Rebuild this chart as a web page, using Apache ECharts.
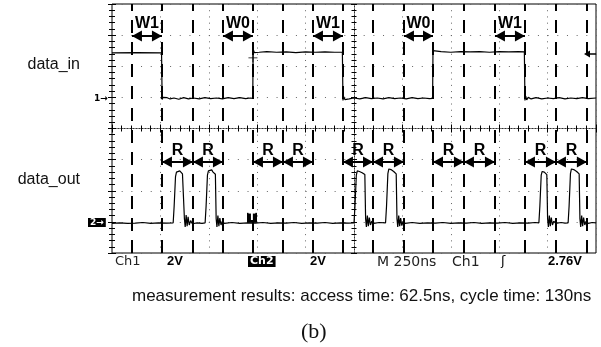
<!DOCTYPE html>
<html>
<head>
<meta charset="utf-8">
<script src="https://cdn.jsdelivr.net/npm/echarts@6/dist/echarts.min.js"></script>
<style>
  html, body {margin: 0; padding: 0; background: #fff;}
  #main {width: 601px; height: 347px;}
</style>
</head>
<body>
<div id="main"></div>
<script>
// time in ns (250 ns/div), level in screen divisions (0 = centre line)
const dataIn = [
  [0, 2.43], [130, 2.44], [256, 2.43], [259, 0.93], [263, 1.0], [270, 0.95], [285, 0.99], [300, 0.95],
  [320, 0.98], [345, 0.94], [370, 0.99], [395, 0.95], [420, 0.98], [450, 0.95], [480, 0.99], [510, 0.96],
  [540, 0.98], [570, 0.95], [600, 0.99], [630, 0.96], [660, 0.99], [690, 0.96], [715, 0.98], [727, 0.97],
  [729, 2.55], [735, 2.44], [745, 2.49], [760, 2.45], [800, 2.47], [850, 2.45], [900, 2.46], [950, 2.44],
  [1000, 2.46], [1050, 2.45], [1100, 2.46], [1150, 2.45], [1190, 2.45], [1193, 0.9], [1197, 1.02], [1203, 0.93],
  [1210, 0.99], [1225, 0.95], [1250, 0.98], [1280, 0.95], [1310, 0.99], [1340, 0.96], [1370, 0.98], [1400, 0.95],
  [1430, 0.99], [1460, 0.96], [1490, 0.98], [1520, 0.95], [1550, 0.99], [1580, 0.96], [1610, 0.98], [1640, 0.96],
  [1656, 0.97], [1658, 2.5], [1665, 2.46], [1700, 2.47], [1750, 2.45], [1800, 2.47], [1850, 2.46], [1900, 2.47],
  [1950, 2.45], [2000, 2.47], [2050, 2.46], [2100, 2.47], [2130, 2.46], [2133, 0.9], [2137, 1.04], [2142, 0.92],
  [2150, 1.0], [2165, 0.95], [2190, 0.99], [2220, 0.95], [2250, 0.98], [2280, 0.96], [2310, 0.99], [2340, 0.95],
  [2370, 0.98], [2400, 0.96], [2430, 0.99], [2460, 0.96], [2500, 0.98]
];

const dataOut = [
  [0, -3.05], [40, -3.03], [80, -3.05], [120, -3.04], [160, -3.02], [200, -3.05], [240, -3.03], [280, -3.04],
  // pulse 1
  [316, -3.03], [321, -2.5], [328, -1.55], [333, -1.40], [338, -1.34], [343, -1.38], [350, -1.36], [357, -1.42],
  [364, -1.46], [370, -1.48], [374, -2.9], [378, -3.16], [383, -2.78], [388, -3.14], [393, -2.84], [399, -3.1],
  [406, -2.96], [415, -3.06], [440, -3.03], [465, -3.05],
  // pulse 2
  [481, -3.03], [486, -2.5], [493, -1.5], [498, -1.36], [503, -1.30], [508, -1.36], [515, -1.33], [522, -1.40],
  [529, -1.45], [534, -1.47], [538, -2.9], [542, -3.16], [547, -2.8], [552, -3.14], [557, -2.88], [563, -3.1],
  [570, -2.98], [580, -3.05], [620, -3.02], [660, -3.05], [700, -3.03], [740, -3.04], [780, -3.02], [820, -3.05],
  [860, -3.03], [900, -3.04], [940, -3.02], [980, -3.05], [1020, -3.03], [1060, -3.04], [1100, -3.02],
  [1140, -3.05], [1180, -3.03], [1220, -3.04],
  // pulse 3
  [1250, -3.03], [1255, -2.5], [1262, -1.5], [1267, -1.36], [1272, -1.32], [1278, -1.38], [1285, -1.36],
  [1292, -1.42], [1300, -1.46], [1306, -1.48], [1310, -2.9], [1314, -3.16], [1319, -2.8], [1324, -3.14],
  [1329, -2.86], [1335, -3.1], [1342, -2.98], [1352, -3.05], [1380, -3.02],
  // pulse 4
  [1413, -3.03], [1418, -2.5], [1425, -1.45], [1430, -1.30], [1435, -1.26], [1441, -1.32], [1448, -1.30],
  [1455, -1.38], [1462, -1.44], [1468, -1.46], [1472, -2.9], [1476, -3.16], [1481, -2.8], [1486, -3.14],
  [1491, -2.88], [1497, -3.12], [1504, -2.98], [1514, -3.05], [1550, -3.02], [1590, -3.05], [1630, -3.03],
  [1670, -3.04], [1710, -3.02], [1750, -3.05], [1790, -3.03], [1830, -3.04], [1870, -3.02], [1910, -3.05],
  [1950, -3.03], [1990, -3.04], [2030, -3.02], [2070, -3.05], [2110, -3.03], [2150, -3.04], [2185, -3.02],
  // pulse 5
  [2205, -3.03], [2210, -2.5], [2217, -1.5], [2222, -1.38], [2227, -1.34], [2233, -1.40], [2240, -1.44],
  [2246, -1.48], [2250, -2.9], [2254, -3.16], [2259, -2.8], [2264, -3.14], [2269, -2.86], [2275, -3.1],
  [2282, -2.98], [2292, -3.05], [2320, -3.02], [2340, -3.04],
  // pulse 6
  [2356, -3.03], [2361, -2.5], [2368, -1.45], [2373, -1.30], [2378, -1.26], [2385, -1.32], [2393, -1.30],
  [2400, -1.38], [2407, -1.44], [2413, -1.46], [2417, -2.9], [2421, -3.16], [2426, -2.8], [2431, -3.14],
  [2436, -2.86], [2442, -3.1], [2449, -2.98], [2460, -3.05], [2480, -3.02], [2500, -3.03]
];

// dashed cursor lines drawn over the screen
const markerTimes = [103, 258, 418, 573, 728, 883, 1038, 1193, 1348, 1508, 1658, 1818, 1978, 2133, 2293, 2453];
const wLabels = ['W1', 'W0', 'W1', 'W0', 'W1'];
const wStart = [0, 3, 6, 9, 12];
const rStart = [1, 2, 4, 5, 7, 8, 10, 11, 13, 14];
const wLevel = 2.97;
const rLevel = -1.08;
const triggerPoint = [723, -2.87];
const cursorPoint = [728, 2.27];

const box = {left: 112, top: 4, width: 484, height: 249};
const black = '#000';

const frameAxis = (grid, pos, isX, split) => ({
  gridIndex: grid,
  type: 'value',
  position: pos,
  min: isX ? 0 : -4,
  max: isX ? 2500 : 4,
  interval: isX ? 250 : 1,
  axisLine: {show: false},
  axisLabel: {show: false},
  axisTick: {show: true, inside: true, length: 4, lineStyle: {color: black}},
  minorTick: {show: true, splitNumber: 5, length: 3, lineStyle: {color: black}},
  splitLine: {show: split, lineStyle: {color: '#666', width: 1, type: isX ? [1, 5.22] : [1, 8.68]}}
});

const centreAxis = (grid, isX, inside) => ({
  gridIndex: grid,
  type: 'value',
  min: isX ? -5 : -4,
  max: isX ? 5 : 4,
  interval: 1,
  axisLine: {show: true, onZero: true, lineStyle: {color: '#333', width: 1, type: [1, 2]}},
  axisLabel: {show: false},
  axisTick: {show: true, inside: inside, length: 3, lineStyle: {color: black}},
  minorTick: {show: true, splitNumber: 5, length: 2.5, lineStyle: {color: black}},
  splitLine: {show: false}
});

const arrowLine = (starts, level, names) => starts.map((k, i) => [
  {coord: [markerTimes[k], level], name: names ? names[i] : 'R'},
  {coord: [markerTimes[k + 1], level]}
]);

// symbolOffset is read per end, symbolSize as a whole
const arrowStyle = {
  silent: true,
  symbol: ['triangle', 'triangle'],
  symbolSize: [11, 10],
  symbolOffset: [[0, 5], [0, 5]],
  lineStyle: {color: black, width: 2, type: 'solid'},
  label: {
    show: true, position: 'middle', formatter: '{b}', distance: 4,
    color: black, fontSize: 16, fontWeight: 'bold', fontFamily: 'Liberation Sans'
  }
};

const chart = echarts.init(document.getElementById('main'));
chart.setOption({
  animation: false,
  backgroundColor: '#fff',
  grid: [0, 1, 2, 3].map(i => ({...box, show: i === 0, borderColor: black, borderWidth: 1})),
  xAxis: [
    frameAxis(0, 'bottom', true, true),
    frameAxis(1, 'top', true, false),
    centreAxis(2, true, true),
    centreAxis(3, true, false)
  ],
  yAxis: [
    frameAxis(0, 'left', false, true),
    frameAxis(1, 'right', false, false),
    centreAxis(2, false, true),
    centreAxis(3, false, false)
  ],
  series: [
    {
      name: 'data_in', type: 'line', data: dataIn, showSymbol: false,
      lineStyle: {color: black, width: 1.2},
      markPoint: {
        silent: true,
        symbol: 'path://M4.5 0h1v10h-1zM0 4.5h10v1h-10z',
        symbolSize: 9,
        itemStyle: {color: black},
        label: {show: false},
        data: [{coord: cursorPoint}]
      }
    },
    {
      name: 'data_out', type: 'line', data: dataOut, showSymbol: false,
      lineStyle: {color: black, width: 1.2},
      markPoint: {
        silent: true,
        symbol: 'rect',
        symbolSize: [10, 10],
        itemStyle: {color: black},
        label: {show: true, position: 'inside', formatter: 'T', color: '#fff', fontSize: 10, fontWeight: 'bold', fontFamily: 'DejaVu Sans'},
        data: [{coord: triggerPoint}]
      }
    },
    {
      type: 'line', data: [],
      markLine: {
        silent: true, symbol: 'none',
        lineStyle: {color: black, width: 2, type: [13, 9]},
        label: {show: false},
        data: markerTimes.map(t => ({xAxis: t}))
      }
    },
    {type: 'line', data: [], markLine: {...arrowStyle, data: arrowLine(wStart, wLevel, wLabels)}},
    {type: 'line', data: [], markLine: {...arrowStyle, data: arrowLine(rStart, rLevel)}}
  ],
  graphic: [
    {type: 'text', right: 521, top: 57, style: {text: 'data_in', font: '16px "Liberation Sans"', fill: '#111'}},
    {type: 'text', right: 521, top: 172, style: {text: 'data_out', font: '16px "Liberation Sans"', fill: '#111'}},
    {type: 'text', left: 94, top: 94, style: {text: '1→', font: 'bold 9px "DejaVu Sans"', fill: black}},
    {type: 'text', left: 88, top: 218, style: {text: '2→', font: 'bold 9px "DejaVu Sans"', fill: '#fff', backgroundColor: black, padding: [0, 2]}},
    // trigger level pointer on the right edge
    {type: 'polygon', shape: {points: [[584, 54], [590, 50.5], [590, 57.5]]}, style: {fill: black}, z: 10},
    {type: 'line', shape: {x1: 589, y1: 54, x2: 596, y2: 54}, style: {stroke: black, lineWidth: 1.5}, z: 10},
    {type: 'text', left: 115, top: 255, style: {text: 'Ch1', font: '13px "DejaVu Sans"', fill: '#222'}},
    {type: 'text', left: 167, top: 255, style: {text: '2V', font: 'bold 13px "Liberation Sans"', fill: black}},
    {type: 'text', left: 248, top: 256, style: {text: 'Ch2', font: 'bold 11px "DejaVu Sans"', fill: '#fff', backgroundColor: black, padding: [0, 2]}},
    {type: 'text', left: 310, top: 255, style: {text: '2V', font: 'bold 13px "Liberation Sans"', fill: black}},
    {type: 'text', left: 377, top: 255, style: {text: 'M 250ns', font: '14px "DejaVu Sans"', fill: '#222'}},
    {type: 'text', left: 452, top: 255, style: {text: 'Ch1', font: '14px "DejaVu Sans"', fill: '#222'}},
    {type: 'text', left: 501, top: 255, style: {text: 'ʃ', font: '13px "DejaVu Sans"', fill: black}},
    {type: 'text', left: 548, top: 255, style: {text: '2.76V', font: 'bold 13px "Liberation Sans"', fill: black}},
    {type: 'text', left: 132, top: 288, style: {text: 'measurement results: access time: 62.5ns, cycle time: 130ns', font: '17px "Liberation Sans"', fill: '#111'}},
    {type: 'text', left: 301, top: 321, style: {text: '(b)', font: '22px "Liberation Serif"', fill: '#111'}}
  ]
});
</script>
</body>
</html>
